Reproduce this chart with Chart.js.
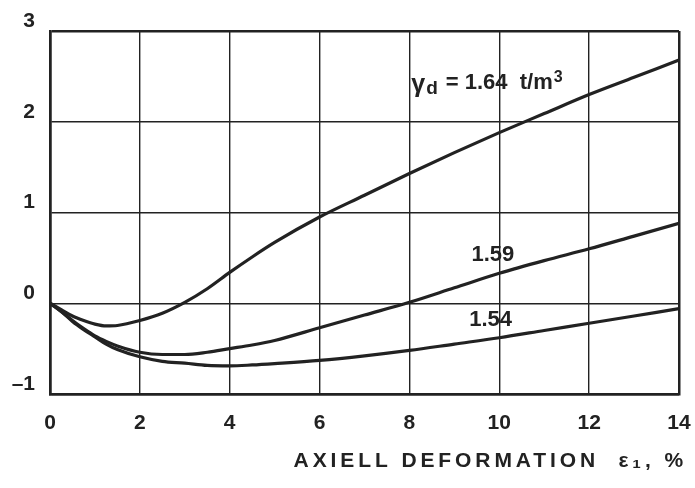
<!DOCTYPE html>
<html>
<head>
<meta charset="utf-8">
<script src="https://cdn.jsdelivr.net/npm/chart.js@4.4.1/dist/chart.umd.min.js"></script>
<style>html,body{margin:0;background:#fff}</style>
</head>
<body>
<canvas id="c" width="695" height="488"></canvas>
<script>
// axial strain (%) where the curves were read
const strain = [0, 0.25, 0.5, 0.75, 1, 1.25, 1.5, 2, 2.5, 3, 3.5, 4, 4.5, 5, 6, 7, 8, 9, 10, 11, 12, 13, 14];
const dens164 = [0, -0.07, -0.14, -0.19, -0.23, -0.25, -0.245, -0.19, -0.11, 0.01, 0.16, 0.34, 0.51, 0.67, 0.95, 1.19, 1.43, 1.66, 1.88, 2.09, 2.30, 2.49, 2.68];
const dens159 = [0, -0.09, -0.19, -0.28, -0.36, -0.42, -0.47, -0.54, -0.565, -0.565, -0.54, -0.50, -0.46, -0.41, -0.27, -0.13, 0.01, 0.17, 0.33, 0.47, 0.60, 0.74, 0.88];
const dens154 = [0, -0.09, -0.2, -0.29, -0.37, -0.45, -0.51, -0.59, -0.64, -0.66, -0.685, -0.69, -0.68, -0.665, -0.63, -0.58, -0.52, -0.45, -0.38, -0.30, -0.22, -0.14, -0.06];
const xTicks = [0, 2, 4, 6, 8, 10, 12, 14];
const yTicks = [-1, 0, 1, 2, 3];
const xTitle = "AXIELL DEFORMATION  \u03B5\u2081, %";

const ink = "#222";
const family = "'Liberation Sans', Arial, sans-serif";
const toPoints = ys => strain.map((x, i) => ({ x, y: ys[i] }));

const curve = (label, ys) => ({
  label,
  data: toPoints(ys),
  borderColor: ink,
  borderWidth: 3.2,
  pointRadius: 0,
  cubicInterpolationMode: "monotone",
  fill: false
});

// curve labels, placed in data coordinates
const labelPlugin = {
  id: "curveLabels",
  afterDatasetsDraw(chart) {
    const { ctx, scales: { x, y } } = chart;
    ctx.save();
    ctx.fillStyle = ink;
    ctx.textBaseline = "alphabetic";
    const font = s => `bold ${s}px ${family}`;

    // gamma_d = 1.64 t/m3
    let px = x.getPixelForValue(8.04);
    let base = y.getPixelForValue(2.45) + 8;
    ctx.font = font(25);
    ctx.fillText("\u03B3", px, base + 3);
    px += ctx.measureText("\u03B3").width + 1;
    ctx.font = font(19);
    ctx.fillText("d", px, base + 5);
    px += ctx.measureText("d").width + 8;
    ctx.font = font(22);
    const main = "= 1.64  t/m";
    ctx.fillText(main, px, base);
    px += ctx.measureText(main).width + 1;
    ctx.font = font(16);
    ctx.fillText("3", px, base - 7);

    ctx.font = font(22);
    ctx.textBaseline = "middle";
    ctx.fillText("1.59", x.getPixelForValue(9.38), y.getPixelForValue(0.53));
    ctx.fillText("1.54", x.getPixelForValue(9.33), y.getPixelForValue(-0.18));

    // axis title, letter spaced
    ctx.font = font(21);
    ctx.textAlign = "right";
    ctx.letterSpacing = "3.9px";
    ctx.fillText(xTitle, chart.chartArea.right + 8, chart.chartArea.bottom + 67);
    ctx.restore();
  }
};

const edgeWidth = edges => c => (c.tick && edges.includes(c.tick.value)) ? 2.5 : 1.4;

new Chart(document.getElementById("c"), {
  type: "line",
  data: {
    datasets: [
      curve("1.64", dens164),
      curve("1.59", dens159),
      curve("1.54", dens154)
    ]
  },
  options: {
    responsive: false,
    animation: false,
    layout: { padding: { top: 31, right: 16, left: 0, bottom: 0 } },
    plugins: { legend: { display: false }, tooltip: { enabled: false } },
    scales: {
      x: {
        type: "linear",
        min: 0,
        max: 14,
        afterBuildTicks: s => { s.ticks = xTicks.map(v => ({ value: v })); },
        afterFit: s => { s.height = 94; s.paddingLeft = 0; s.paddingRight = 0; },
        grid: { color: ink, lineWidth: edgeWidth([0, 14]), drawTicks: false },
        border: { color: ink, width: 2.5 },
        ticks: {
          color: ink,
          padding: 17,
          maxRotation: 0,
          font: { family, size: 21, weight: "bold" }
        }
      },
      y: {
        min: -1,
        max: 3,
        afterBuildTicks: s => { s.ticks = yTicks.map(v => ({ value: v })); },
        afterFit: s => { s.width = 50; },
        grid: { color: ink, lineWidth: edgeWidth([-1, 3]), drawTicks: false },
        border: { color: ink, width: 2.5 },
        ticks: {
          color: ink,
          padding: 15,
          labelOffset: -10,
          callback: v => v < 0 ? "\u2013" + Math.abs(v) : String(v),
          font: { family, size: 21, weight: "bold" }
        }
      }
    }
  },
  plugins: [labelPlugin]
});
</script>
</body>
</html>
